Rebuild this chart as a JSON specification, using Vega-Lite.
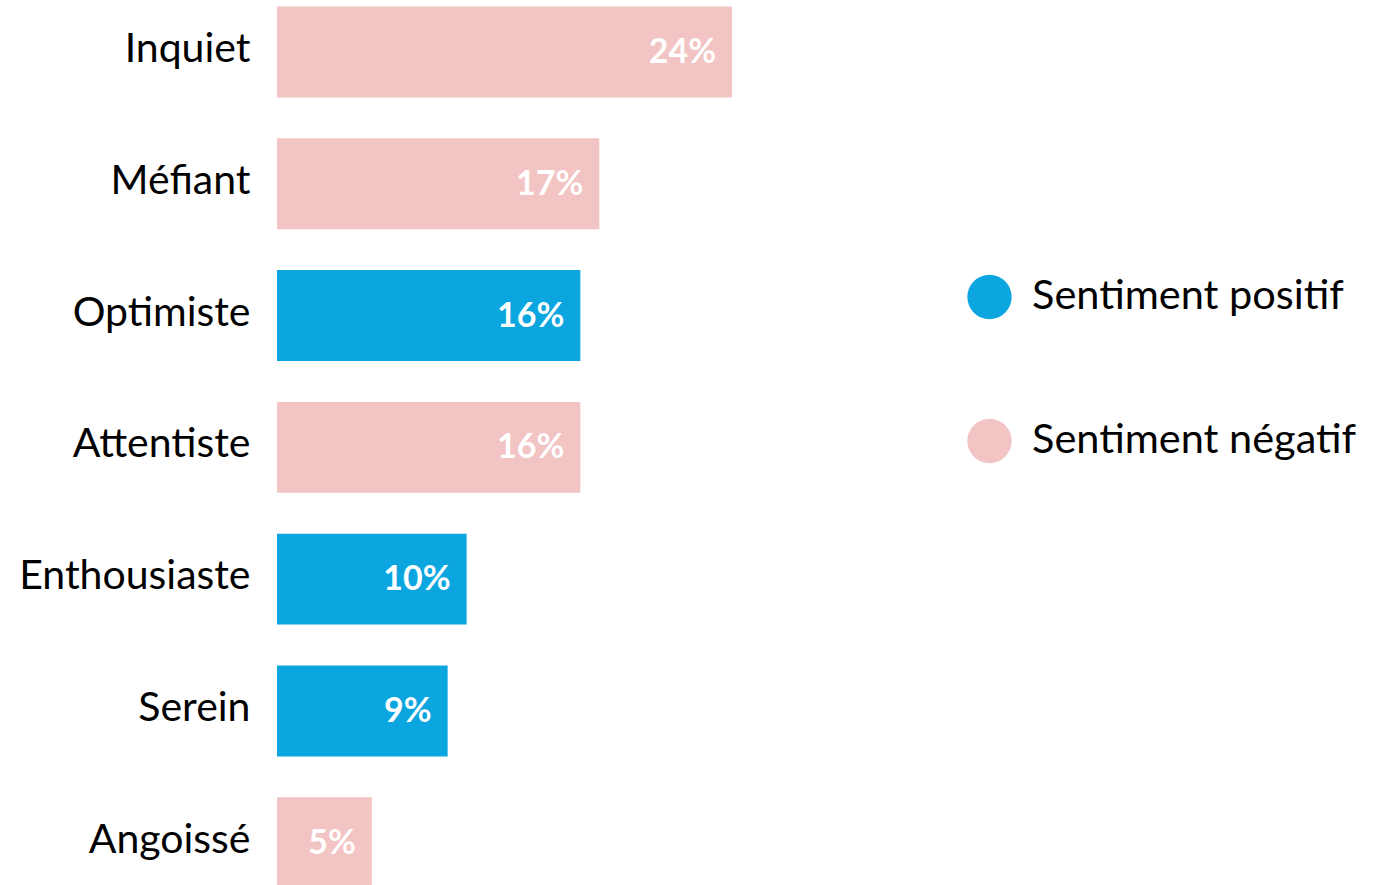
{
  "$schema": "https://vega.github.io/schema/vega-lite/v6.json",
  "autosize": "none",
  "width": 1097,
  "height": 881.7,
  "padding": {"left": 277, "top": 6.5, "right": 0, "bottom": 0},
  "background": "#ffffff",
  "config": {"view": {"stroke": null}, "font": "Lato"},
  "data": {
    "values": [
      {"emotion": "Inquiet", "value": 0.24, "sentiment": "Sentiment négatif"},
      {"emotion": "Méfiant", "value": 0.17, "sentiment": "Sentiment négatif"},
      {"emotion": "Optimiste", "value": 0.16, "sentiment": "Sentiment positif"},
      {"emotion": "Attentiste", "value": 0.16, "sentiment": "Sentiment négatif"},
      {"emotion": "Enthousiaste", "value": 0.10, "sentiment": "Sentiment positif"},
      {"emotion": "Serein", "value": 0.09, "sentiment": "Sentiment positif"},
      {"emotion": "Angoissé", "value": 0.05, "sentiment": "Sentiment négatif"}
    ]
  },
  "encoding": {
    "y": {
      "field": "emotion",
      "type": "nominal",
      "sort": null,
      "scale": {"paddingInner": 0.31, "paddingOuter": 0},
      "axis": {
        "title": null,
        "domain": false,
        "ticks": false,
        "labelPadding": 27,
        "labelFontSize": 41,
        "labelColor": "#000000",
        "labelFont": "Lato",
        "labelLimit": 400,
        "labelOffset": -2
      }
    },
    "x": {
      "field": "value",
      "type": "quantitative",
      "scale": {"domain": [0, 0.5786], "nice": false, "zero": true},
      "axis": null
    }
  },
  "layer": [
    {
      "mark": {"type": "bar"},
      "encoding": {
        "color": {
          "field": "sentiment",
          "type": "nominal",
          "scale": {"domain": ["Sentiment positif", "Sentiment négatif"], "range": ["#0BA5E0", "#F2C4C4"]},
          "legend": {
            "title": null,
            "orient": "none",
            "legendX": 690,
            "legendY": 268,
            "symbolType": "circle",
            "symbolSize": 1963,
            "symbolStrokeWidth": 0,
            "symbolOpacity": 1,
            "labelFontSize": 41.5,
            "labelFont": "Lato",
            "labelColor": "#000000",
            "labelOffset": 20,
            "rowPadding": 99,
            "labelLimit": 500
          }
        }
      }
    },
    {
      "mark": {"type": "text", "align": "right", "baseline": "middle", "dx": -16, "dy": 1, "fontSize": 34, "fontWeight": "bold", "color": "#ffffff", "font": "Lato"},
      "encoding": {
        "text": {"field": "value", "type": "quantitative", "format": ".0%"},
        "detail": {"field": "sentiment"}
      }
    }
  ]
}
